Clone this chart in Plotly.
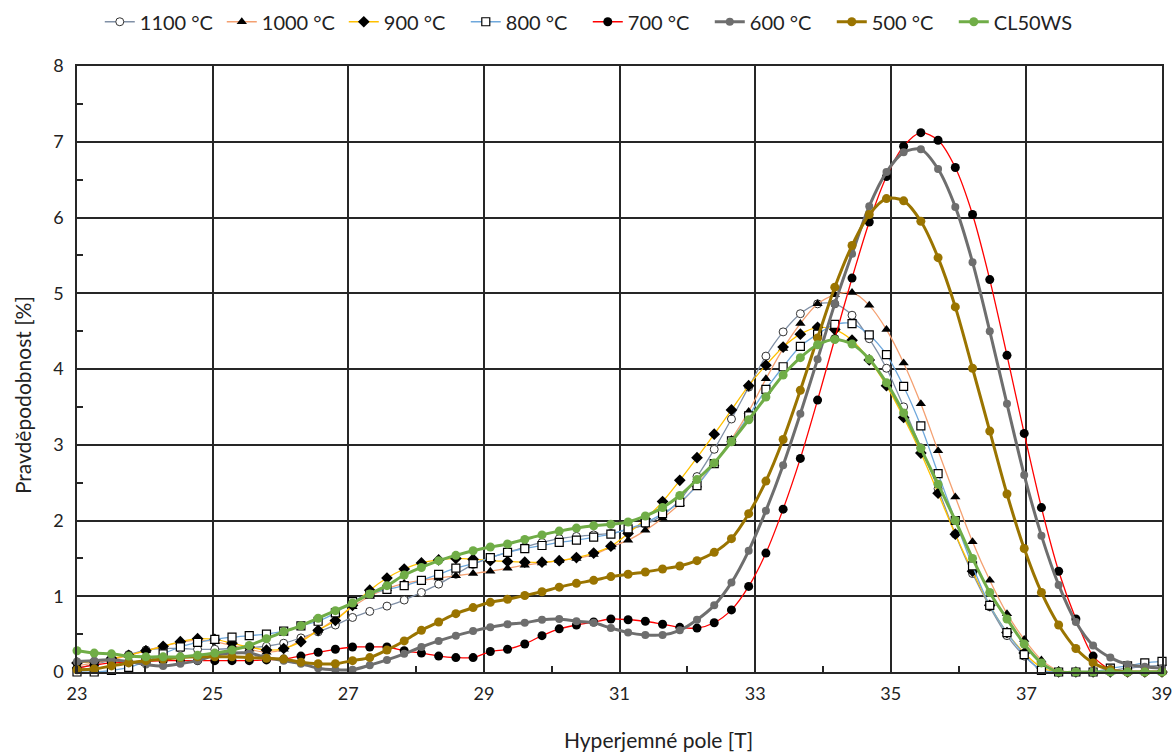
import numpy as np
import plotly.graph_objects as go

# Hyperfine field grid [T] (64 samples from 23 to 39 T)
field = np.round(np.linspace(23, 39, 64), 3)

series_names = ["1100 °C", "1000 °C", "900 °C", "800 °C", "700 °C", "600 °C", "500 °C", "CL50WS"]

p1100 = [0.05, 0.10, 0.16, 0.23, 0.29, 0.31, 0.31, 0.30, 0.30, 0.31, 0.32, 0.34, 0.38, 0.45, 0.53, 0.62,
         0.72, 0.80, 0.87, 0.95, 1.05, 1.16, 1.29, 1.42, 1.51, 1.58, 1.65, 1.71, 1.76, 1.79, 1.81, 1.83,
         1.88, 1.95, 2.07, 2.27, 2.58, 2.94, 3.34, 3.76, 4.17, 4.49, 4.73, 4.86, 4.86, 4.71, 4.40, 4.01,
         3.50, 2.96, 2.42, 1.82, 1.30, 0.86, 0.48, 0.21, 0.03, 0.00, 0.00, 0.00, 0.02, 0.05, 0.07, 0.09]

p1000 = [0.08, 0.12, 0.16, 0.22, 0.28, 0.34, 0.39, 0.42, 0.40, 0.35, 0.30, 0.26, 0.30, 0.42, 0.55, 0.70,
         0.86, 1.00, 1.10, 1.17, 1.21, 1.24, 1.27, 1.30, 1.33, 1.37, 1.41, 1.44, 1.47, 1.50, 1.55, 1.65,
         1.74, 1.87, 2.03, 2.22, 2.47, 2.75, 3.07, 3.44, 3.87, 4.27, 4.60, 4.86, 4.98, 5.01, 4.84, 4.52,
         4.08, 3.54, 2.92, 2.31, 1.72, 1.21, 0.77, 0.43, 0.16, 0.02, 0.00, 0.00, 0.00, 0.00, 0.00, 0.00]

p900 = [0.12, 0.14, 0.18, 0.22, 0.28, 0.34, 0.40, 0.44, 0.43, 0.38, 0.33, 0.29, 0.31, 0.40, 0.55, 0.68,
        0.88, 1.08, 1.24, 1.36, 1.44, 1.48, 1.50, 1.49, 1.47, 1.46, 1.45, 1.45, 1.47, 1.51, 1.57, 1.66,
        1.83, 2.02, 2.25, 2.53, 2.83, 3.14, 3.46, 3.78, 4.05, 4.29, 4.46, 4.55, 4.52, 4.38, 4.12, 3.78,
        3.36, 2.89, 2.36, 1.82, 1.33, 0.88, 0.52, 0.25, 0.06, 0.00, 0.00, 0.00, 0.00, 0.00, 0.00, 0.00]

p800 = [0.00, 0.00, 0.02, 0.06, 0.14, 0.24, 0.33, 0.39, 0.43, 0.46, 0.48, 0.50, 0.54, 0.61, 0.67, 0.78,
        0.93, 1.03, 1.09, 1.14, 1.21, 1.29, 1.37, 1.43, 1.51, 1.58, 1.63, 1.67, 1.71, 1.74, 1.78, 1.82,
        1.89, 1.97, 2.09, 2.24, 2.46, 2.75, 3.05, 3.38, 3.73, 4.03, 4.30, 4.46, 4.59, 4.60, 4.45, 4.19,
        3.77, 3.25, 2.62, 2.00, 1.40, 0.88, 0.52, 0.23, 0.02, 0.00, 0.00, 0.00, 0.05, 0.08, 0.12, 0.14]

p700 = [0.05, 0.09, 0.12, 0.13, 0.14, 0.15, 0.15, 0.15, 0.15, 0.15, 0.15, 0.16, 0.17, 0.21, 0.26, 0.30,
        0.33, 0.33, 0.33, 0.28, 0.25, 0.21, 0.19, 0.19, 0.27, 0.30, 0.37, 0.48, 0.57, 0.62, 0.66, 0.70,
        0.69, 0.67, 0.63, 0.59, 0.58, 0.65, 0.82, 1.13, 1.57, 2.15, 2.82, 3.59, 4.40, 5.20, 5.94, 6.54,
        6.94, 7.12, 7.02, 6.66, 6.04, 5.18, 4.18, 3.15, 2.17, 1.33, 0.70, 0.21, 0.03, 0.00, 0.00, 0.00]

p600 = [0.14, 0.15, 0.16, 0.14, 0.10, 0.08, 0.11, 0.15, 0.22, 0.25, 0.25, 0.19, 0.15, 0.11, 0.05, 0.03,
        0.03, 0.09, 0.16, 0.24, 0.33, 0.41, 0.48, 0.54, 0.59, 0.63, 0.65, 0.69, 0.70, 0.67, 0.65, 0.58,
        0.52, 0.49, 0.49, 0.55, 0.69, 0.88, 1.18, 1.60, 2.13, 2.73, 3.41, 4.13, 4.86, 5.52, 6.15, 6.60,
        6.86, 6.90, 6.64, 6.14, 5.41, 4.50, 3.54, 2.60, 1.80, 1.15, 0.66, 0.35, 0.19, 0.10, 0.07, 0.05]

p500 = [0.03, 0.04, 0.08, 0.12, 0.15, 0.17, 0.19, 0.20, 0.20, 0.20, 0.19, 0.18, 0.17, 0.13, 0.11, 0.11,
        0.15, 0.19, 0.29, 0.41, 0.55, 0.66, 0.77, 0.85, 0.92, 0.96, 1.01, 1.06, 1.12, 1.17, 1.21, 1.26,
        1.29, 1.32, 1.36, 1.40, 1.47, 1.58, 1.76, 2.09, 2.52, 3.07, 3.72, 4.41, 5.08, 5.63, 6.04, 6.25,
        6.22, 5.95, 5.47, 4.82, 4.01, 3.18, 2.35, 1.63, 1.05, 0.62, 0.31, 0.12, 0.03, 0.00, 0.00, 0.00]

pCL50WS = [0.28, 0.25, 0.24, 0.21, 0.20, 0.20, 0.20, 0.22, 0.25, 0.29, 0.35, 0.44, 0.53, 0.61, 0.71, 0.81,
           0.91, 1.03, 1.14, 1.28, 1.38, 1.47, 1.54, 1.60, 1.65, 1.69, 1.75, 1.81, 1.86, 1.90, 1.93, 1.95,
           1.98, 2.06, 2.17, 2.33, 2.54, 2.76, 3.04, 3.33, 3.63, 3.92, 4.15, 4.32, 4.39, 4.33, 4.13, 3.82,
           3.42, 2.95, 2.48, 2.00, 1.50, 1.05, 0.70, 0.37, 0.12, 0.00, 0.00, 0.00, 0.00, 0.00, 0.00, 0.00]

x_ticks = [23, 25, 27, 29, 31, 33, 35, 37, 39]
x_title = "Hyperjemné pole [T]"
y_title = "Pravděpodobnost [%]"

styles = [
    dict(line=dict(color="#8090A6", width=1.3), marker=dict(symbol="circle", size=8, color="white", line=dict(color="#333333", width=1))),
    dict(line=dict(color="#F4A071", width=1.3), marker=dict(symbol="triangle-up", size=9, color="black")),
    dict(line=dict(color="#FFC000", width=1.3), marker=dict(symbol="diamond", size=9, color="black")),
    dict(line=dict(color="#6FA8DC", width=1.3), marker=dict(symbol="square", size=8, color="white", line=dict(color="black", width=1.2))),
    dict(line=dict(color="#FF0000", width=1.3), marker=dict(symbol="circle", size=9, color="black")),
    dict(line=dict(color="#6E6E6E", width=3), marker=dict(symbol="circle", size=8, color="#6E6E6E")),
    dict(line=dict(color="#9A7400", width=3), marker=dict(symbol="circle", size=9, color="#9A7400")),
    dict(line=dict(color="#70AD47", width=3), marker=dict(symbol="circle", size=9, color="#70AD47")),
]

data = [p1100, p1000, p900, p800, p700, p600, p500, pCL50WS]

fig = go.Figure()
for name, ys, st in zip(series_names, data, styles):
    fig.add_trace(go.Scatter(
        x=field, y=ys, name=name, mode="lines+markers",
        line=dict(shape="spline", smoothing=0.8, **st["line"]),
        marker=st["marker"], cliponaxis=False,
    ))

font_family = "Lato, 'Open Sans', sans-serif"
axis_col = "#262626"

fig.update_layout(
    width=1176, height=754, autosize=False,
    margin=dict(l=77, r=14, t=66, b=82, autoexpand=False),
    paper_bgcolor="white", plot_bgcolor="white",
    font=dict(family=font_family, size=18, color="#222222"),
    showlegend=True,
    legend=dict(orientation="h", x=0.021, xanchor="left", y=1.073, yanchor="middle",
                font=dict(size=20, color="#222222"), bgcolor="rgba(0,0,0,0)", itemwidth=30,
                entrywidth=77, entrywidthmode="pixels"),
    xaxis=dict(
        range=[23, 39], tickvals=x_ticks, ticktext=[str(v) for v in x_ticks],
        showgrid=True, gridcolor=axis_col, gridwidth=1.5,
        showline=True, mirror=True, linecolor=axis_col, linewidth=1.5,
        ticks="", zeroline=False, ticklabelstandoff=5,
        minor=dict(ticks="inside", tick0=23, dtick=1, ticklen=6, tickcolor=axis_col, tickwidth=1.5, showgrid=False),
        tickfont=dict(size=18),
    ),
    yaxis=dict(
        range=[0, 8], tick0=0, dtick=1,
        showgrid=True, gridcolor=axis_col, gridwidth=1.5,
        showline=True, mirror=True, linecolor=axis_col, linewidth=1.5,
        ticks="", zeroline=False, ticklabelstandoff=8,
        minor=dict(ticks="inside", tick0=0, dtick=0.5, ticklen=6, tickcolor=axis_col, tickwidth=1.5, showgrid=False),
        tickfont=dict(size=18),
    ),
    annotations=[
        dict(text=x_title, xref="paper", yref="paper", x=0.5355, y=-0.112,
             xanchor="center", yanchor="middle", showarrow=False, font=dict(size=21)),
        dict(text=y_title, xref="paper", yref="paper", x=-0.0507, y=0.457, textangle=-90,
             xanchor="center", yanchor="middle", showarrow=False, font=dict(size=21)),
    ],
)

fig.write_html("out.html", config={"displayModeBar": False},
               post_script="document.body.style.margin='0';")
